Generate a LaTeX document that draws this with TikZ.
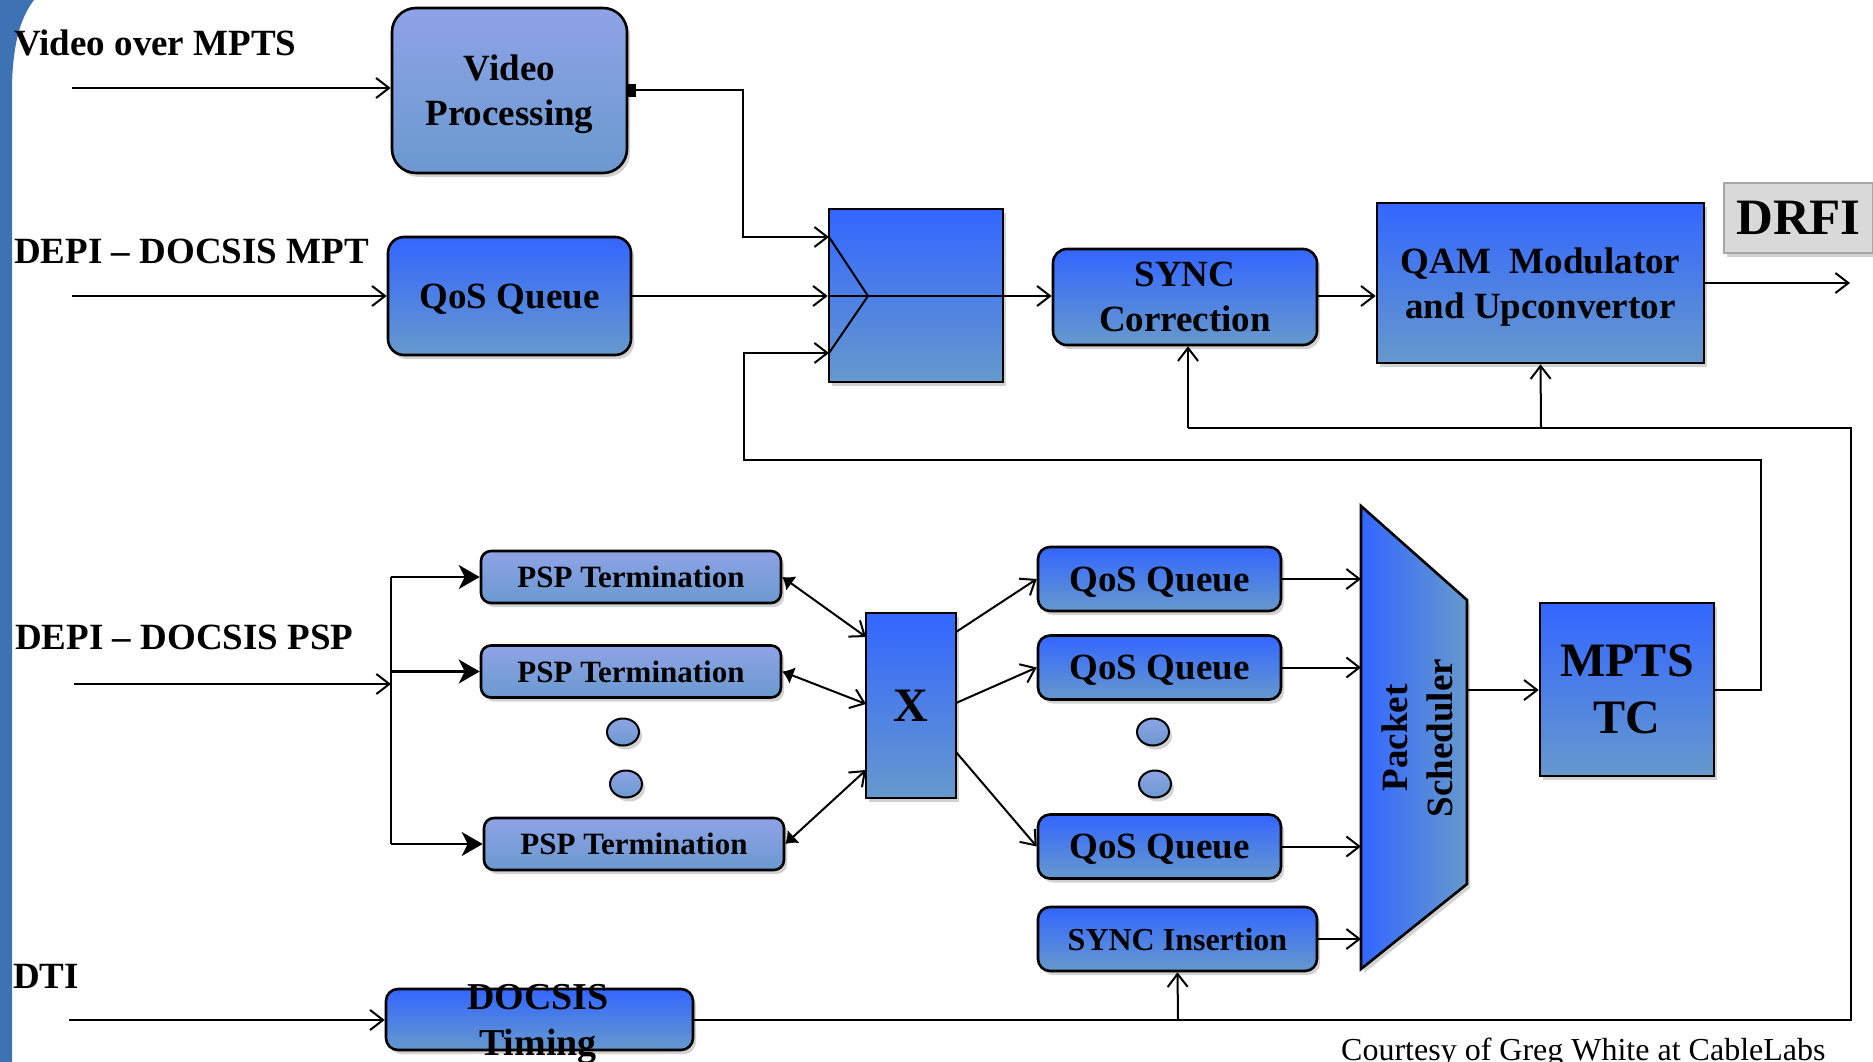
\documentclass[tikz,border=0pt]{standalone}
\usepackage{fontspec}
\setmainfont{Liberation Serif}
\usetikzlibrary{arrows.meta,shadows,shapes.geometric,calc}
\definecolor{bA}{HTML}{3366FF}
\definecolor{bB}{HTML}{6699CC}
\definecolor{lA}{HTML}{8FA3E6}
\definecolor{lB}{HTML}{6A99CF}
\definecolor{barblue}{HTML}{3D72B5}
\definecolor{drfigray}{HTML}{D9D9D9}
\definecolor{drfiline}{HTML}{A6A6A6}
\begin{document}
\begin{tikzpicture}[x=1pt,y=-1pt,
  shd/.style={drop shadow={shadow xshift=3pt,shadow yshift=-4pt,opacity=0.35,fill=black!50}},
  bbox/.style={draw=black,line width=2.6pt,top color=bA,bottom color=bB,shd,inner sep=0pt,align=center,text depth=0pt,font=\bfseries\fontsize{37}{45}\selectfont},
  lbox/.style={bbox,top color=lA,bottom color=lB},
  pspbox/.style={lbox,rounded corners=10pt,minimum width=300pt,minimum height=52pt,font=\bfseries\fontsize{31}{36}\selectfont},
  qbox/.style={bbox,rounded corners=12pt,minimum width=243pt,minimum height=64pt},
  dotn/.style={ellipse,draw=black,line width=2pt,top color=lA,bottom color=lB,minimum width=32pt,minimum height=27pt,inner sep=0pt,shd},
  wire/.style={line width=2pt,draw=black},
  arr/.style={wire,-{Straight Barb[length=13pt,width=20pt,line width=2pt]}},
  farr/.style={line width=2.6pt,draw=black,-{Stealth[length=21pt,width=24pt,inset=6pt]}},
  bidir/.style={wire,{Latex[length=11pt,width=18pt]}-{Straight Barb[length=13pt,width=20pt,line width=2pt]}},
  lab/.style={anchor=base west,inner sep=0pt,font=\bfseries\fontsize{37}{45}\selectfont}
]
\useasboundingbox (0,0) rectangle (1873,1062);
\fill[white] (0,0) rectangle (1873,1062);
% left bar
\fill[barblue] (0,0) -- (34,0) .. controls (20,18) and (13,45) .. (12,85) -- (12,1062) -- (0,1062) -- cycle;

% upper nodes
\node[lbox,rounded corners=24pt,minimum width=235pt,minimum height=165pt] (vp) at (509.5,90.5) {Video\\Processing};
\node[bbox,rounded corners=16pt,minimum width=243pt,minimum height=118pt] (q0) at (509.5,296) {QoS Queue};
\node[bbox,minimum width=174pt,minimum height=173pt] (mux) at (916,295.5) {};
\node[bbox,rounded corners=14pt,minimum width=264pt,minimum height=96pt] (syncc) at (1185,297) {SYNC\\Correction};
\node[bbox,minimum width=327pt,minimum height=160pt] (qam) at (1540.5,283) {QAM\ \ Modulator\\and Upconvertor};
\node[draw=drfiline,line width=2pt,fill=drfigray,shd,minimum width=149pt,minimum height=70pt,inner sep=0pt,font=\bfseries\fontsize{51}{60}\selectfont] (drfi) at (1798.5,218) {DRFI};

% lower nodes
\node[pspbox] (p1) at (631,577) {PSP Termination};
\node[pspbox] (p2) at (631,671.5) {PSP Termination};
\node[pspbox] (p3) at (634,844) {PSP Termination};
\node[dotn] (d1) at (623,732) {};
\node[dotn] (d2) at (626,784) {};
\node[bbox,minimum width=90pt,minimum height=185pt,font=\bfseries\fontsize{48}{50}\selectfont] (xb) at (911,705.5) {X};
\node[qbox] (q1) at (1159.5,579) {QoS Queue};
\node[qbox] (q2) at (1159.5,667.5) {QoS Queue};
\node[dotn] (d3) at (1153,732) {};
\node[dotn] (d4) at (1155,784) {};
\node[qbox] (q3) at (1159.5,846.5) {QoS Queue};
\node[bbox,rounded corners=12pt,minimum width=279pt,minimum height=64pt,font=\bfseries\fontsize{32}{36}\selectfont] (si) at (1177.5,939) {SYNC Insertion};
\path[draw=black,line width=2.6pt,left color=bA,right color=bB,shd] (1361,506) -- (1467,600) -- (1467,884) -- (1361,969) -- cycle;
\node[rotate=90,align=center,inner sep=0pt,font=\bfseries\fontsize{37}{45}\selectfont] (sch) at (1417,738) {Packet\\Scheduler};
\coordinate (schL) at (1361,738);
\coordinate (schR) at (1467,690);
\node[bbox,minimum width=174pt,minimum height=173pt,font=\bfseries\fontsize{48}{57}\selectfont] (mpts) at (1627,689.5) {MPTS\\TC};
\node[bbox,rounded corners=12pt,minimum width=307pt,minimum height=61pt] (dt) at (539.5,1019.5) {};
\node[align=center,inner sep=0pt,font=\bfseries\fontsize{38}{46}\selectfont] (dtt) at (538,1024) {DOCSIS\\Timing};

% labels
\node[lab] (l1) at (14,56) {Video over MPTS};
\node[lab] (l2) at (14,263) {DEPI -- DOCSIS MPT};
\node[lab] (l3) at (15,649) {DEPI -- DOCSIS PSP};
\node[lab] (l4) at (13,988) {DTI};
\node[anchor=base west,inner sep=0pt,font=\fontsize{32}{36}\selectfont] (cr) at (1341,1060) {Courtesy of Greg White at CableLabs};

% coordinates
\coordinate (i1) at (72,88);
\coordinate (i2) at (72,296);
\coordinate (i3) at (74,684);
\coordinate (i4) at (69,1020);
\coordinate (tr) at (391,684);
\coordinate (t1) at (391,577);
\coordinate (t2) at (391,671.5);
\coordinate (t3) at (391,844);
\coordinate (m1) at (829,237);
\coordinate (m3) at (829,353);
\coordinate (mc) at (868,296);
\coordinate (k1) at (743,237);
\coordinate (f1) at (1761,460);
\coordinate (f2) at (744,353);
\coordinate (out) at (1850,283);
\coordinate (g1) at (1851,428);
\coordinate (s1) at (1188,428);
\coordinate (s2) at (1541,428);
\coordinate (s3) at (1178,1019.5);
\coordinate (x1) at (866,637);
\coordinate (x2) at (866,704);
\coordinate (x3) at (866,770);
\coordinate (y1) at (956,632);
\coordinate (y2) at (956,703);
\coordinate (y3) at (956,752);

% connectors upper
\draw[arr] (i1) -- (i1 -| vp.west);
\draw[arr] (i2) -- (i2 -| q0.west);
\draw[wire,{Square[length=8pt,width=13pt]}-{Straight Barb[length=13pt,width=20pt,line width=2pt]}] (vp.east) -| (k1) -- (m1);
\draw[arr] (q0.east) -- (q0.east -| mux.west);
\draw[arr] (q0.east -| mux.west) -- (q0.east -| syncc.west);
\draw[wire] (m1) -- (mc) -- (m3);
\draw[arr] (mpts.east) -| (f1) -| (f2) -- (m3);
\draw[arr] (q0.east -| syncc.east) -- (q0.east -| qam.west);
\draw[arr] (qam.east) -- (out);
\draw[wire] (dt.east) -| (g1) -- (s1);
\draw[arr] (s1) -- (s1 |- syncc.south);
\draw[arr] (s2) -- (qam.south);

% connectors lower
\draw[arr] (i3) -- (tr);
\draw[line width=2.6pt] (t1) -- (t3);
\draw[farr] (t1) -- (p1.west);
\draw[farr] (t2) -- (p2.west);
\draw[farr] (t3) -- (p3.west);
\draw[bidir] (p1.east) -- (x1);
\draw[bidir] (p2.east) -- (x2);
\draw[bidir] (p3.east) -- (x3);
\draw[arr] (y1) -- (q1.west);
\draw[arr] (y2) -- (q2.west);
\draw[arr] (y3) -- (q3.west);
\draw[arr] (q1.east) -- (q1.east -| schL);
\draw[arr] (q2.east) -- (q2.east -| schL);
\draw[arr] (q3.east) -- (q3.east -| schL);
\draw[arr] (si.east) -- (si.east -| schL);
\draw[arr] (schR) -- (schR -| mpts.west);
\draw[arr] (i4) -- (i4 -| dt.west);
\draw[arr] (s3) -- (si.south);
\end{tikzpicture}
\end{document}
